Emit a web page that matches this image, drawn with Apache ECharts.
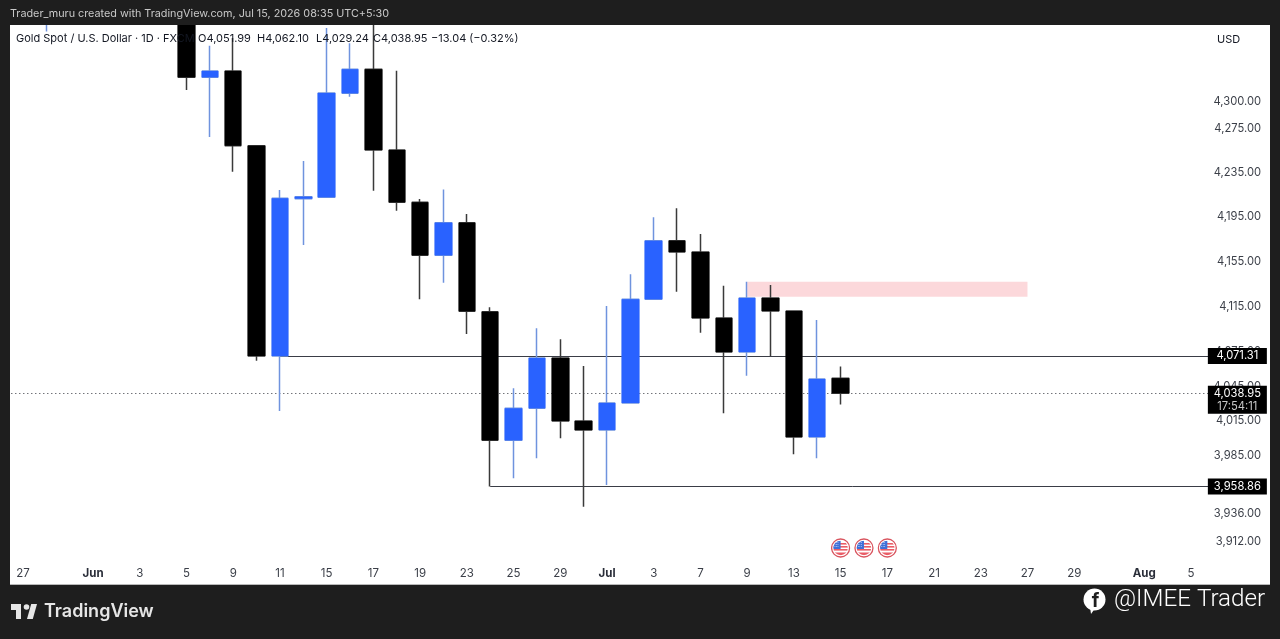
<!DOCTYPE html>
<html>
<head>
<meta charset="utf-8">
<style>
  html, body { margin: 0; padding: 0; background: #1e1e1e; }
  #chart { width: 1280px; height: 639px; }
</style>
<script src="https://cdn.jsdelivr.net/npm/echarts@6/dist/echarts.min.js"></script>
</head>
<body>
<div id="chart"></div>
<script>
// Daily sessions shown on the time scale
const categories = [
  'May 27','May 28','May 29',
  'Jun 1','Jun 2','Jun 3','Jun 4','Jun 5','Jun 8','Jun 9','Jun 10','Jun 11','Jun 12',
  'Jun 15','Jun 16','Jun 17','Jun 18','Jun 19','Jun 22','Jun 23','Jun 24','Jun 25','Jun 26','Jun 29','Jun 30',
  'Jul 1','Jul 2','Jul 3','Jul 6','Jul 7','Jul 8','Jul 9','Jul 10','Jul 13','Jul 14','Jul 15','Jul 16','Jul 17',
  'Jul 20','Jul 21','Jul 22','Jul 23','Jul 24','Jul 27','Jul 28','Jul 29','Jul 30','Jul 31',
  'Aug 3','Aug 4','Aug 5','Aug 6'
];

// XAU/USD daily candles
const opens = [null,4385,null,null,null,null,null,4389.8,4322.2,4328.1,4259.2,4071.3,4211.1,4212.3,4307.4,4329.7,4255.3,4207.8,4160.2,4189.5,4110.2,3998.3,4025.9,4069.6,4014.9,4007.2,4030.5,4121.2,4173.3,4163.2,4104.6,4074.8,4122.3,4110.8,4001.2,4051.99];
const closes = [null,4410,null,null,null,null,null,4322.2,4328.1,4259.2,4071.3,4211.5,4212.9,4307.7,4329.7,4255.3,4207.8,4160.2,4189.5,4110.6,3998.3,4025.9,4069.6,4014.9,4007.2,4030.5,4121.2,4173.3,4163.2,4104.6,4074.8,4122.3,4110.8,4001.2,4051.3,4038.95];
const lows = [null,4364.9,null,null,null,null,null,4310.5,4267.2,4235.5,4067.2,4023.5,4169.5,4212.3,4304.2,4218.3,4200.2,4121.2,4135.9,4090.6,3958.86,3965.9,3982.9,4000.0,3941.8,3960.2,4030.0,4120.5,4127.9,4091.7,4021.6,4054.1,4071.31,3986.3,3982.9,4029.24];
const highs = [null,4420,null,null,null,null,null,4396,4351.6,4358.8,4259.2,4218.9,4245.3,4368.2,4353.9,4390,4328.4,4210.8,4219.5,4197.3,4114.1,4043.2,4095.6,4085.9,4062.6,4115.2,4143.3,4194.3,4202.4,4179.3,4133.2,4136.7,4133.8,4110.8,4102.9,4062.10];

// Time scale labels and the sessions they sit on
const xTickDates = ['May 27','Jun 1','Jun 3','Jun 5','Jun 9','Jun 11','Jun 15','Jun 17','Jun 19','Jun 23','Jun 25','Jun 29','Jul 1','Jul 3','Jul 7','Jul 9','Jul 13','Jul 15','Jul 17','Jul 21','Jul 23','Jul 27','Jul 29','Aug 3','Aug 5'];
const xTickLabels = ['27','Jun','3','5','9','11','15','17','19','23','25','29','Jul','3','7','9','13','15','17','21','23','27','29','Aug','5'];

// Log price scale ticks
const priceTicks = [4300,4275,4235,4195,4155,4115,4075,4045,4015,3985,3936,3912];

// Drawn levels and zones
const resistanceLevel = 4071.31;
const supportLevel = 3958.86;
const lastClose = 4038.95;
const countdown = '17:54:11';
const zoneDates = ['Jul 9','Jul 27'];
const zonePrices = [4136.7,4123.5];
const eventDates = ['Jul 15','Jul 16','Jul 17'];
const eventPrice = 3907;

const UP = '#2962ff';
const DOWN = '#000000';
const UP_WICK = '#6f93de';
const DOWN_WICK = '#3a3a3a';
const FONT = 'Inter, Roboto, "Liberation Sans", sans-serif';

const fmt = v => Number(v).toLocaleString('en-US', { minimumFractionDigits: 2, maximumFractionDigits: 2 });
const candleData = categories.map((c, i) =>
  opens[i] == null ? '-' : [opens[i], closes[i], lows[i], highs[i]]);
// Bodies are drawn on their own so the wicks can carry a softer tone
const bodyData = categories.map((c, i) =>
  opens[i] == null ? '-' : [opens[i], closes[i], Math.min(opens[i], closes[i]), Math.max(opens[i], closes[i])]);

const flagSvg = `<svg xmlns="http://www.w3.org/2000/svg" width="40" height="40" viewBox="0 0 40 40">
<defs><clipPath id="c"><circle cx="20" cy="20" r="14.5"/></clipPath></defs>
<circle cx="20" cy="20" r="18" fill="#ffffff" stroke="#d9555f" stroke-width="2.6"/>
<g clip-path="url(#c)">
<rect x="4" y="5" width="32" height="30" fill="#ffffff"/>
<rect x="4" y="10" width="32" height="3.2" fill="#ea5c66"/>
<rect x="4" y="16" width="32" height="3.2" fill="#ea5c66"/>
<rect x="4" y="22" width="32" height="3.2" fill="#ea5c66"/>
<rect x="4" y="29" width="32" height="6" fill="#ea5c66"/>
<rect x="4" y="5" width="16" height="17" fill="#3f6fd8"/>
<path d="M8 9h9M8 13h9M8 17h9" stroke="#ffffff" stroke-width="1.3" stroke-dasharray="1.5 1.5"/>
</g></svg>`;
const flagSymbol = 'image://data:image/svg+xml;charset=utf-8,' + encodeURIComponent(flagSvg);

const priceBox = (value) => ({
  coord: ['Aug 6', value],
  symbol: 'rect',
  symbolSize: [59, 16],
  symbolOffset: [23, 0],
  itemStyle: { color: '#000000' },
  label: { show: true, position: 'inside', color: '#ffffff', fontSize: 11.2, fontFamily: FONT, formatter: fmt(value) }
});

const chart = echarts.init(document.getElementById('chart'), null, { renderer: 'canvas' });
chart.setOption({
  animation: false,
  backgroundColor: '#1e1e1e',
  grid: { left: 11.32, top: 25, width: 52 * 23.36, height: 560, containLabel: false },
  xAxis: {
    type: 'category',
    data: categories,
    boundaryGap: true,
    axisTick: { show: false },
    splitLine: { show: false },
    axisLine: { show: false },
    axisLabel: {
      inside: true,
      margin: 5,
      hideOverlap: false,
      color: '#3b3f48',
      fontSize: 11.5,
      fontFamily: FONT,
      interval: (i, val) => xTickDates.includes(val),
      formatter: (val) => {
        const text = xTickLabels[xTickDates.indexOf(val)];
        return /[A-Za-z]/.test(text) ? '{m|' + text + '}' : text;
      },
      rich: { m: { fontWeight: 700, fontSize: 11.5, color: '#2a2e39', fontFamily: FONT } }
    }
  },
  yAxis: {
    type: 'log',
    logBase: 10,
    position: 'right',
    offset: 35,
    min: 3876.1,
    max: 4371,
    scale: true,
    axisLine: { show: false },
    axisTick: { show: false },
    splitLine: { show: false },
    minorTick: { show: false },
    minorSplitLine: { show: false },
    axisLabel: {
      inside: true,
      margin: 0,
      padding: [3, 0, 0, 0],
      color: '#3b3f48',
      fontSize: 11.2,
      fontFamily: FONT,
      customValues: priceTicks,
      formatter: (v) => fmt(v),
      showMinLabel: true,
      showMaxLabel: true
    }
  },
  graphic: {
    elements: [
      { type: 'rect', z: -10, silent: true, shape: { x: 10, y: 25, width: 1260, height: 560 }, style: { fill: '#ffffff' } },
      { type: 'rect', z: -9, silent: true, shape: { x: 10, y: 584, width: 1260, height: 1 }, style: { fill: '#b9b9b9' } },
      // Header band sits over candles that run past the top of the pane
      { type: 'rect', z: 40, silent: true, shape: { x: 0, y: 0, width: 1280, height: 25 }, style: { fill: '#1e1e1e' } },
      { type: 'text', z: 50, x: 10, y: 14, style: { text: 'Trader_muru created with TradingView.com, Jul 15, 2026 08:35 UTC+5:30', fill: '#c9c9c9', font: '10.8px ' + FONT, textVerticalAlign: 'middle' } },
      { type: 'text', z: 50, x: 16, y: 38.5, style: { text: 'Gold Spot / U.S. Dollar · 1D · FXCM', fill: '#131722', font: '11px ' + FONT, textVerticalAlign: 'middle' } },
      { type: 'text', z: 50, x: 198, y: 38.5, style: { text: 'O4,051.99', fill: '#131722', font: '11px ' + FONT, textVerticalAlign: 'middle' } },
      { type: 'text', z: 50, x: 257, y: 38.5, style: { text: 'H4,062.10', fill: '#131722', font: '11px ' + FONT, textVerticalAlign: 'middle' } },
      { type: 'text', z: 50, x: 316, y: 38.5, style: { text: 'L4,029.24', fill: '#131722', font: '11px ' + FONT, textVerticalAlign: 'middle' } },
      { type: 'text', z: 50, x: 373, y: 38.5, style: { text: 'C4,038.95', fill: '#131722', font: '11px ' + FONT, textVerticalAlign: 'middle' } },
      { type: 'text', z: 50, x: 431, y: 38.5, style: { text: '\u221213.04 (\u22120.32%)', fill: '#131722', font: '11px ' + FONT, textVerticalAlign: 'middle' } },
      { type: 'text', z: 50, x: 1217, y: 39.5, style: { text: 'USD', fill: '#131722', font: '11px ' + FONT, textVerticalAlign: 'middle' } },
      // Platform logo and wordmark in the footer
      { type: 'polygon', z: 50, silent: true, shape: { points: [[11, 604], [21, 604], [21, 619], [16, 619], [16, 610], [11, 610]] }, style: { fill: '#e6e6e6' } },
      { type: 'polygon', z: 50, silent: true, shape: { points: [[27, 619], [32.8, 619], [37, 604], [31.2, 604]] }, style: { fill: '#e6e6e6' } },
      { type: 'circle', z: 50, silent: true, shape: { cx: 26.5, cy: 607, r: 2.8 }, style: { fill: '#e6e6e6' } },
      { type: 'text', z: 50, x: 44, y: 612, style: { text: 'TradingView', fill: '#e6e6e6', font: '600 18px ' + FONT, textVerticalAlign: 'middle' } },
      // Facebook mark and page name
      { type: 'circle', z: 50, silent: true, shape: { cx: 1094.5, cy: 599.5, r: 11 }, style: { fill: '#ffffff' } },
      { type: 'polygon', z: 50, silent: true, shape: { points: [[1090, 607], [1096, 607], [1091, 614]] }, style: { fill: '#ffffff' } },
      { type: 'text', z: 51, x: 1095.5, y: 601, style: { text: 'f', fill: '#1e1e1e', font: '700 19px ' + FONT, textAlign: 'center', textVerticalAlign: 'middle' } },
      { type: 'text', z: 50, x: 1114, y: 600, style: { text: '@IMEE Trader', fill: '#ffffff', font: '300 24.2px Roboto, ' + FONT, textVerticalAlign: 'middle' } }
    ]
  },
  series: [{
    type: 'candlestick',
    name: 'XAUUSD wicks',
    z: 2,
    silent: true,
    barWidth: 16,
    data: candleData,
    itemStyle: { color: UP, color0: DOWN, borderColor: UP_WICK, borderColor0: DOWN_WICK, borderWidth: 1.5 },
    markArea: {
      silent: true,
      z: 1,
      itemStyle: { color: '#fcd8db' },
      data: [[
        { coord: [zoneDates[0], zonePrices[0]] },
        { coord: [zoneDates[1], zonePrices[1]] }
      ]]
    },
    markLine: {
      silent: true,
      z: 1,
      symbol: 'none',
      label: { show: false },
      data: [
        [
          { coord: ['Jun 11', resistanceLevel], lineStyle: { color: '#3a3d46', width: 1, type: 'solid' } },
          { coord: ['Aug 6', resistanceLevel] }
        ],
        [
          { coord: ['Jun 24', supportLevel], lineStyle: { color: '#3a3d46', width: 1, type: 'solid' } },
          { coord: ['Aug 6', supportLevel] }
        ],
        { yAxis: lastClose, lineStyle: { color: '#30333c', width: 1, type: [1, 3] } }
      ]
    },
    markPoint: {
      silent: true,
      z: 6,
      data: [
        priceBox(resistanceLevel),
        priceBox(supportLevel),
        {
          coord: ['Aug 6', lastClose],
          symbol: 'rect',
          symbolSize: [59, 28],
          symbolOffset: [23, 6.5],
          itemStyle: { color: '#000000' },
          label: {
            show: true, position: 'inside', fontFamily: FONT,
            formatter: '{p|' + fmt(lastClose) + '}\n{t|' + countdown + '}',
            rich: {
              p: { color: '#ffffff', fontSize: 11.2, fontFamily: FONT, lineHeight: 13 },
              t: { color: '#c7c7c7', fontSize: 11.2, fontFamily: FONT, lineHeight: 13 }
            }
          }
        }
      ].concat(eventDates.map((d) => ({
        coord: [d, eventPrice], symbol: flagSymbol, symbolSize: 20, label: { show: false }
      })))
    }
  }, {
    type: 'candlestick',
    name: 'XAUUSD bodies',
    z: 3,
    silent: true,
    barWidth: 18,
    data: bodyData,
    itemStyle: { color: UP, color0: DOWN, borderColor: UP, borderColor0: DOWN, borderWidth: 0 }
  }]
});
</script>
</body>
</html>
